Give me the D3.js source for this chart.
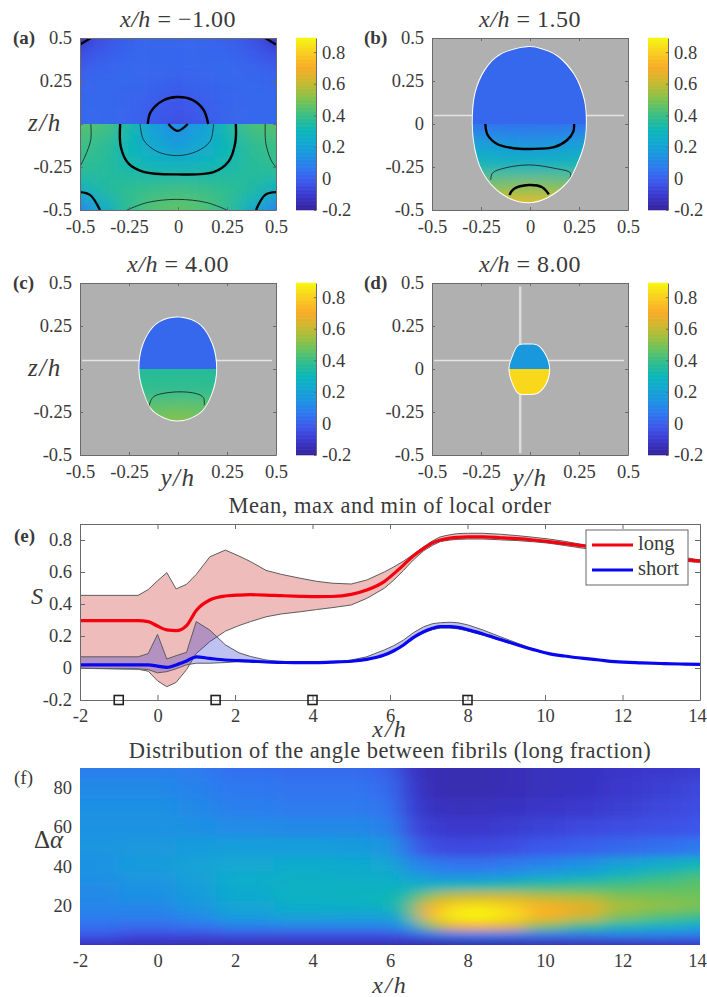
<!DOCTYPE html>
<html>
<head>
<meta charset="utf-8">
<script src="https://cdn.jsdelivr.net/npm/d3@7"></script>
<style>
  body { margin: 0; background: #fff; }
  text { font-family: "Liberation Serif", serif; fill: #3a3a3a; }
  .tick text { font-size: 18.5px; }
  .it { font-style: italic; }
  .domain, .tick line { stroke: #6a6a6a; }
</style>
</head>
<body>
<div id="chart"></div>
<script>
// colormap
const cmapValues = [-0.2, -0.12, -0.03, 0.06, 0.14, 0.22, 0.3, 0.38, 0.46, 0.54, 0.62, 0.7, 0.8, 0.89];
const cmapColors = ['#35249a', '#3a35c8', '#3d55ea', '#2f78f0', '#1d93e2', '#12a8d2', '#0cb6b8', '#2fbd90', '#62c262', '#9cc040', '#d0b72f', '#f8ab28', '#f9cf20', '#f7f80f'];
const colorbarTicks = [-0.2, 0, 0.2, 0.4, 0.6, 0.8];
const sectionTicks = [-0.5, -0.25, 0, 0.25, 0.5];

// cross section values, y columns and z rows
const gridY = [-0.5, -0.375, -0.25, -0.125, 0, 0.125, 0.25, 0.375, 0.5];
const upperZ = [0.5, 0.375, 0.25, 0.125, 0];
const lowerZ = [0, -0.125, -0.25, -0.375, -0.5];

const upperA = [
  [-0.12, -0.04, 0.0, 0.01, 0.01, 0.01, 0.0, -0.04, -0.12],
  [-0.03, 0.0, 0.02, 0.02, 0.02, 0.02, 0.02, 0.0, -0.03],
  [0.01, 0.02, 0.02, 0.01, 0.0, 0.01, 0.02, 0.02, 0.01],
  [0.02, 0.02, 0.01, -0.01, -0.03, -0.01, 0.01, 0.02, 0.02],
  [0.02, 0.02, 0.01, -0.02, -0.05, -0.02, 0.01, 0.02, 0.02]
];
const lowerA = [
  [0.44, 0.42, 0.33, 0.18, 0.12, 0.18, 0.33, 0.42, 0.44],
  [0.4, 0.37, 0.3, 0.22, 0.17, 0.22, 0.3, 0.37, 0.4],
  [0.38, 0.36, 0.32, 0.3, 0.29, 0.3, 0.32, 0.36, 0.38],
  [0.28, 0.35, 0.38, 0.39, 0.4, 0.39, 0.38, 0.35, 0.28],
  [0.08, 0.25, 0.38, 0.44, 0.46, 0.44, 0.38, 0.25, 0.08]
];
const rowsB = [
  [0.04, 0.04, 0.04, 0.04, 0.04, 0.04, 0.04, 0.04, 0.04],
  [0.26, 0.23, 0.2, 0.17, 0.16, 0.17, 0.2, 0.23, 0.26],
  [0.34, 0.33, 0.31, 0.3, 0.3, 0.3, 0.31, 0.33, 0.34],
  [0.5, 0.5, 0.5, 0.51, 0.52, 0.51, 0.5, 0.5, 0.5],
  [0.74, 0.74, 0.74, 0.74, 0.74, 0.74, 0.74, 0.74, 0.74]
];
const rowsC = [
  [0.36, 0.36, 0.36, 0.36, 0.36, 0.36, 0.36, 0.36, 0.36],
  [0.38, 0.38, 0.38, 0.38, 0.38, 0.38, 0.38, 0.38, 0.38],
  [0.44, 0.44, 0.45, 0.47, 0.48, 0.47, 0.45, 0.44, 0.44],
  [0.51, 0.51, 0.51, 0.53, 0.55, 0.53, 0.51, 0.51, 0.51],
  [0.54, 0.54, 0.54, 0.55, 0.56, 0.55, 0.54, 0.54, 0.54]
];
const upperValueB = 0.02;
const upperValueC = 0.02;
const upperValueD = 0.16;
const lowerValueD = 0.82;

// outlines of the fibril region, [y, z]
const outlineB = [[-0.006, 0.447], [-0.15, 0.403], [-0.227, 0.316], [-0.278, 0.18], [-0.292, 0], [-0.278, -0.15], [-0.245, -0.267], [-0.185, -0.364], [-0.1, -0.432], [-0.006, -0.455], [0.088, -0.426], [0.19, -0.335], [0.24, -0.228], [0.275, -0.112], [0.285, 0], [0.275, 0.14], [0.224, 0.286], [0.139, 0.393], [0.054, 0.436]];
const outlineC = [[-0.006, 0.3], [-0.108, 0.262], [-0.176, 0.146], [-0.197, 0], [-0.176, -0.126], [-0.125, -0.243], [-0.006, -0.3], [0.113, -0.252], [0.173, -0.136], [0.195, 0], [0.173, 0.146], [0.105, 0.262]];
const outlineD = [[-0.057, 0.136], [-0.01, 0.142], [0.037, 0.136], [0.079, 0.078], [0.098, 0], [0.079, -0.087], [0.037, -0.138], [-0.01, -0.145], [-0.057, -0.14], [-0.086, -0.087], [-0.105, 0], [-0.086, 0.078]];

// contour lines, [y, z]
const thickA = [
  [[-0.5, 0.462], [-0.445, 0.5]],
  [[0.445, 0.5], [0.5, 0.462]],
  [[-0.154, 0], [-0.139, 0.07], [-0.074, 0.138], [-0.006, 0.157], [0.07, 0.142], [0.13, 0.083], [0.154, 0]],
  [[-0.049, 0], [-0.003, -0.04], [0.05, 0]],
  [[-0.295, 0], [-0.292, -0.132], [-0.253, -0.229], [-0.176, -0.278], [-0.006, -0.293], [0.181, -0.28], [0.258, -0.218], [0.292, -0.111], [0.295, 0]],
  [[-0.5, -0.396], [-0.449, -0.412], [-0.398, -0.5]],
  [[0.5, -0.396], [0.445, -0.412], [0.398, -0.5]]
];
const thinA = [
  [[-0.193, 0], [-0.176, -0.092], [-0.108, -0.159], [-0.006, -0.184], [0.096, -0.159], [0.164, -0.1], [0.181, 0]],
  [[-0.445, 0], [-0.445, -0.091], [-0.474, -0.188], [-0.5, -0.247]],
  [[0.445, 0], [0.448, -0.111], [0.474, -0.208], [0.5, -0.253]],
  [[-0.26, -0.5], [-0.158, -0.457], [-0.006, -0.438], [0.147, -0.457], [0.249, -0.5]]
];
const thickB = [
  [[-0.228, 0], [-0.216, -0.064], [-0.168, -0.116], [-0.083, -0.141], [0.003, -0.145], [0.122, -0.135], [0.19, -0.093], [0.221, -0.044], [0.225, 0]],
  [[-0.105, -0.413], [-0.083, -0.378], [-0.006, -0.355], [0.062, -0.368], [0.096, -0.409]]
];
const thinB = [
  [[-0.2, -0.325], [-0.192, -0.286], [-0.132, -0.257], [-0.006, -0.238], [0.122, -0.257], [0.207, -0.286], [0.195, -0.335]]
];
const thinC = [
  [[-0.15, -0.225], [-0.136, -0.178], [-0.116, -0.155], [-0.006, -0.133], [0.096, -0.144], [0.13, -0.167], [0.134, -0.21]]
];

// panel e
const orderX = [-2, -0.5, -0.24, 0, 0.24, 0.48, 0.75, 1, 1.35, 1.75, 2.1, 2.4, 2.8, 3.2, 3.7, 4.1, 4.5, 5, 5.4, 5.85, 6.1, 6.35, 6.6, 6.87, 7.1, 7.3, 7.55, 7.75, 8, 8.4, 8.85, 9.3, 9.7, 10.1, 10.5, 11, 11.4, 11.8, 12.5, 13, 13.5, 14];
const longMax = [0.454, 0.454, 0.49, 0.545, 0.596, 0.494, 0.523, 0.585, 0.695, 0.737, 0.7, 0.665, 0.61, 0.585, 0.56, 0.542, 0.53, 0.525, 0.55, 0.6, 0.632, 0.668, 0.71, 0.758, 0.795, 0.82, 0.833, 0.84, 0.842, 0.842, 0.836, 0.827, 0.817, 0.806, 0.792, 0.77, 0.757, 0.745, 0.725, 0.71, 0.695, 0.675];
const longMean = [0.296, 0.296, 0.29, 0.262, 0.238, 0.233, 0.265, 0.36, 0.425, 0.45, 0.456, 0.458, 0.456, 0.452, 0.448, 0.446, 0.447, 0.46, 0.487, 0.54, 0.59, 0.644, 0.7, 0.748, 0.782, 0.8, 0.812, 0.817, 0.819, 0.819, 0.814, 0.808, 0.8, 0.79, 0.778, 0.763, 0.752, 0.74, 0.715, 0.695, 0.679, 0.669];
const longMin = [-0.002, -0.008, -0.02, -0.08, -0.117, -0.09, -0.01, 0.09, 0.165, 0.23, 0.265, 0.29, 0.32, 0.338, 0.352, 0.365, 0.377, 0.394, 0.435, 0.498, 0.55, 0.61, 0.675, 0.733, 0.767, 0.79, 0.8, 0.804, 0.806, 0.806, 0.801, 0.796, 0.789, 0.78, 0.766, 0.748, 0.737, 0.725, 0.7, 0.683, 0.669, 0.66];
const shortMax = [0.07, 0.07, 0.09, 0.21, 0.056, 0.077, 0.098, 0.29, 0.237, 0.145, 0.095, 0.072, 0.05, 0.04, 0.035, 0.033, 0.035, 0.05, 0.07, 0.1125, 0.14, 0.175, 0.22, 0.258, 0.277, 0.283, 0.286, 0.283, 0.27, 0.2375, 0.195, 0.154, 0.12, 0.09, 0.075, 0.06, 0.05, 0.04, 0.03, 0.027, 0.025, 0.025];
const shortMean = [0.019, 0.019, 0.019, 0.012, 0.004, 0.019, 0.044, 0.07, 0.06, 0.05, 0.046, 0.043, 0.0375, 0.035, 0.033, 0.034, 0.037, 0.042, 0.054, 0.081, 0.108, 0.144, 0.19, 0.227, 0.248, 0.258, 0.258, 0.254, 0.24, 0.2125, 0.178, 0.144, 0.115, 0.09, 0.075, 0.06, 0.05, 0.04, 0.032, 0.028, 0.025, 0.023];
const shortMin = [-0.002, -0.005, -0.01, -0.03, -0.023, -0.005, 0.02, 0.03, 0.03, 0.034, 0.04, 0.038, 0.035, 0.032, 0.03, 0.031, 0.033, 0.038, 0.05, 0.078, 0.105, 0.14, 0.185, 0.22, 0.24, 0.25, 0.25, 0.245, 0.232, 0.205, 0.172, 0.14, 0.112, 0.088, 0.073, 0.058, 0.048, 0.038, 0.03, 0.026, 0.023, 0.022];
const markerX = [-1, 1.5, 4, 8];
const orderXTicks = [-2, 0, 2, 4, 6, 8, 10, 12, 14];
const orderYTicks = [-0.2, 0, 0.2, 0.4, 0.6, 0.8];

// panel f, one row per angle, same colour units as the colorbar
const angleX = [-2, 0, 1, 2, 4, 5, 6, 6.5, 7, 7.5, 8, 8.5, 9, 10, 11, 12, 13, 14];
const angleRows = [1, 5, 10, 15, 20, 25, 30, 35, 40, 50, 60, 70, 80, 90];
const angleValues = [
  [-0.14, -0.15, -0.16, -0.16, -0.16, -0.16, -0.16, -0.17, -0.18, -0.18, -0.18, -0.18, -0.18, -0.17, -0.16, -0.15, -0.14, -0.13],
  [-0.03, -0.06, -0.06, -0.05, -0.05, -0.05, -0.05, -0.02, 0.03, 0.05, 0.06, 0.06, 0.06, 0.05, 0.05, 0.07, 0.07, 0.06],
  [0.04, 0.03, 0.05, 0.09, 0.1, 0.1, 0.1, 0.18, 0.5, 0.66, 0.72, 0.72, 0.66, 0.5, 0.4, 0.32, 0.28, 0.24],
  [0.08, 0.08, 0.12, 0.18, 0.21, 0.2, 0.2, 0.36, 0.72, 0.86, 0.89, 0.89, 0.84, 0.72, 0.62, 0.5, 0.44, 0.4],
  [0.1, 0.11, 0.15, 0.21, 0.25, 0.26, 0.28, 0.4, 0.7, 0.8, 0.84, 0.84, 0.8, 0.72, 0.66, 0.56, 0.52, 0.5],
  [0.11, 0.13, 0.17, 0.23, 0.27, 0.28, 0.3, 0.35, 0.52, 0.6, 0.62, 0.62, 0.62, 0.58, 0.56, 0.5, 0.49, 0.48],
  [0.12, 0.14, 0.18, 0.24, 0.27, 0.27, 0.27, 0.27, 0.28, 0.3, 0.32, 0.33, 0.35, 0.38, 0.4, 0.42, 0.44, 0.45],
  [0.13, 0.16, 0.19, 0.24, 0.26, 0.25, 0.25, 0.2, 0.16, 0.14, 0.14, 0.15, 0.17, 0.22, 0.26, 0.32, 0.38, 0.42],
  [0.14, 0.17, 0.2, 0.22, 0.24, 0.23, 0.22, 0.12, 0.08, 0.05, 0.05, 0.05, 0.07, 0.1, 0.14, 0.2, 0.25, 0.3],
  [0.15, 0.16, 0.17, 0.18, 0.18, 0.17, 0.15, 0.03, -0.05, -0.06, -0.06, -0.06, -0.05, -0.02, 0.0, 0.02, 0.04, 0.06],
  [0.14, 0.14, 0.13, 0.12, 0.11, 0.11, 0.09, -0.05, -0.1, -0.11, -0.11, -0.11, -0.1, -0.08, -0.06, -0.05, -0.04, -0.03],
  [0.13, 0.13, 0.11, 0.08, 0.07, 0.07, 0.05, -0.08, -0.13, -0.14, -0.14, -0.14, -0.13, -0.12, -0.11, -0.09, -0.07, -0.05],
  [0.11, 0.11, 0.09, 0.06, 0.05, 0.05, 0.03, -0.1, -0.15, -0.16, -0.16, -0.16, -0.15, -0.14, -0.13, -0.11, -0.09, -0.07],
  [0.08, 0.08, 0.07, 0.04, 0.03, 0.03, 0.0, -0.12, -0.15, -0.16, -0.16, -0.16, -0.15, -0.14, -0.13, -0.12, -0.11, -0.1]
];
const angleXTicks = [-2, 0, 2, 4, 6, 8, 10, 12, 14];
const angleYTicks = [20, 40, 60, 80];

const svg = d3.select('#chart').append('svg').attr('width', 707).attr('height', 997);
const defs = svg.append('defs');
const color = d3.scaleLinear().domain(cmapValues).range(cmapColors).clamp(true);
const fmt = d => String(d);

defs.append('filter').attr('id', 'blurSection')
  .attr('filterUnits', 'userSpaceOnUse').attr('x', 0).attr('y', 0).attr('width', 707).attr('height', 997)
  .append('feGaussianBlur').attr('stdDeviation', 9);
defs.append('filter').attr('id', 'blurAngle')
  .attr('filterUnits', 'userSpaceOnUse').attr('x', 0).attr('y', 0).attr('width', 900).attr('height', 997)
  .append('feGaussianBlur').attr('stdDeviation', '11 5');

let clipCount = 0;
function addClip(build) {
  const id = 'clip' + (clipCount++);
  build(defs.append('clipPath').attr('id', id));
  return `url(#${id})`;
}

// draws cells from a value grid, outer cells run well past the edge so the blur stays even
function drawCells(g, xs, ys, values, xScale, yScale) {
  const edges = (arr, scale) => arr.map((d, i) => {
    const p = scale(d);
    const before = i > 0 ? (scale(arr[i - 1]) + p) / 2 : p + (p - scale(arr[1])) * 2;
    const after = i < arr.length - 1 ? (scale(arr[i + 1]) + p) / 2 : p + (p - scale(arr[i - 1])) * 2;
    return [Math.min(before, after), Math.max(before, after)];
  });
  const xe = edges(xs, xScale);
  const ye = edges(ys, yScale);
  ys.forEach((_, r) => xs.forEach((_, c) => {
    g.append('rect')
      .attr('x', xe[c][0]).attr('y', ye[r][0])
      .attr('width', xe[c][1] - xe[c][0] + 0.5).attr('height', ye[r][1] - ye[r][0] + 0.5)
      .attr('fill', color(values[r][c]));
  }));
}

// moves the last x label in so it stays on the page
function pullLastLabel(axisG) {
  axisG.selectAll('.tick text').filter(d => d === 14).attr('dx', -3);
}

function drawSection(p) {
  const x = d3.scaleLinear().domain([-0.5, 0.5]).range([p.left, p.left + 196]);
  const y = d3.scaleLinear().domain([-0.5, 0.5]).range([p.top + 172, p.top]);
  const line = d3.line().x(d => x(d[0])).y(d => y(d[1]));
  const root = svg.append('g');

  const inside = addClip(c => {
    if (p.outline) c.append('path').attr('d', line.curve(d3.curveCatmullRomClosed)(p.outline));
    else c.append('rect').attr('x', x(-0.5)).attr('y', y(0.5)).attr('width', 196).attr('height', 172);
  });
  line.curve(d3.curveCatmullRom);

  if (p.outline) {
    root.append('rect').attr('x', x(-0.5)).attr('y', y(0.5)).attr('width', 196).attr('height', 172).attr('fill', '#b0b0b0');
    (p.whiteH || []).forEach(z => root.append('line').attr('x1', x(-0.49)).attr('x2', x(0.48))
      .attr('y1', y(z)).attr('y2', y(z)).attr('stroke', '#e4e4e4').attr('stroke-width', 1.5));
    (p.whiteV || []).forEach(v => root.append('line').attr('x1', x(v)).attr('x2', x(v))
      .attr('y1', y(0.48)).attr('y2', y(-0.49)).attr('stroke', '#dcdcdc').attr('stroke-width', 2.5));
    root.append('path').attr('d', d3.line().x(d => x(d[0])).y(d => y(d[1])).curve(d3.curveCatmullRomClosed)(p.outline))
      .attr('fill', 'none').attr('stroke', '#fff').attr('stroke-width', 2);
  }

  const content = root.append('g').attr('clip-path', inside);
  const upHalf = content.append('g').attr('clip-path', addClip(c => c.append('rect')
    .attr('x', x(-0.5)).attr('y', y(0.5)).attr('width', 196).attr('height', y(0) - y(0.5))));
  const lowHalf = content.append('g').attr('clip-path', addClip(c => c.append('rect')
    .attr('x', x(-0.5)).attr('y', y(0)).attr('width', 196).attr('height', y(-0.5) - y(0))));

  if (p.upper) drawCells(upHalf.append('g').attr('filter', 'url(#blurSection)'), gridY, upperZ, p.upper, x, y);
  else upHalf.append('rect').attr('x', x(-0.5)).attr('y', y(0.5)).attr('width', 196).attr('height', 90).attr('fill', color(p.upperValue));
  if (p.lower) drawCells(lowHalf.append('g').attr('filter', 'url(#blurSection)'), gridY, lowerZ, p.lower, x, y);
  else lowHalf.append('rect').attr('x', x(-0.5)).attr('y', y(0)).attr('width', 196).attr('height', 90).attr('fill', color(p.lowerValue));

  (p.thin || []).forEach(d => content.append('path').attr('d', line(d)).attr('fill', 'none').attr('stroke', '#1a2a30').attr('stroke-width', 0.9));
  (p.thick || []).forEach(d => content.append('path').attr('d', line(d)).attr('fill', 'none').attr('stroke', '#000').attr('stroke-width', 2.4));

  // axes, ticks inward like the matlab figure
  const zFmt = d => (p.showZero === false && d === 0) ? '' : fmt(d);
  const yFmt = d => (p.showY0 === false && d === 0) ? '' : fmt(d);
  root.append('g').attr('transform', `translate(${p.left},0)`)
    .call(d3.axisLeft(y).tickValues(sectionTicks).tickSizeInner(-3).tickSizeOuter(0).tickPadding(8).tickFormat(zFmt));
  root.append('g').attr('transform', `translate(0,${p.top + 172})`)
    .call(d3.axisBottom(x).tickValues(sectionTicks).tickSizeInner(-3).tickSizeOuter(0).tickPadding(10).tickFormat(yFmt));
  root.append('g').attr('transform', `translate(${p.left + 196},0)`)
    .call(d3.axisRight(y).tickValues(sectionTicks).tickSizeInner(-3).tickSizeOuter(0).tickFormat(''));
  root.append('g').attr('transform', `translate(0,${p.top})`)
    .call(d3.axisTop(x).tickValues(sectionTicks).tickSizeInner(-3).tickSizeOuter(0).tickFormat(''));

  // colorbar
  const cx = p.left + 216;
  const cy = d3.scaleLinear().domain([-0.2, 0.89]).range([p.top + 172, p.top]);
  const steps = d3.range(-0.2, 0.89, 0.005);
  root.append('g').selectAll('rect').data(steps).join('rect')
    .attr('x', cx).attr('width', 20)
    .attr('y', d => cy(d + 0.005) - 0.3).attr('height', cy(0) - cy(0.005) + 0.6)
    .attr('fill', d => color(d));
  root.append('g').attr('transform', `translate(${cx + 20},0)`)
    .call(d3.axisRight(cy).tickValues(colorbarTicks).tickSizeInner(-2).tickSizeOuter(0).tickPadding(6).tickFormat(fmt))
    .select('.domain').attr('stroke', '#777');

  // title
  const t = svg.append('text').attr('x', x(0)).attr('y', p.top - 11).attr('text-anchor', 'middle')
    .attr('font-size', 24).attr('letter-spacing', 0.5);
  t.append('tspan').attr('class', 'it').text('x/h');
  t.append('tspan').text(` = ${p.title}`);
  svg.append('text').attr('x', p.tagX).attr('y', p.top + 6).attr('font-size', 19).attr('font-weight', 'bold').attr('fill', '#333').text(p.tag);
  if (p.showZero === false) {
    svg.append('text').attr('class', 'it').attr('x', 28).attr('y', y(0) + 7).attr('font-size', 25).attr('letter-spacing', 1.5).text('z/h');
  }
  if (p.showY0 === false) {
    svg.append('text').attr('class', 'it').attr('x', x(0)).attr('y', p.top + 172 + 31).attr('text-anchor', 'middle').attr('font-size', 25).attr('letter-spacing', 1.5).text('y/h');
  }
}

drawSection({ left: 80, top: 38, title: '\u22121.00', tag: '(a)', tagX: 13, upper: upperA, lower: lowerA, thick: thickA, thin: thinA, showZero: false });
drawSection({ left: 432, top: 38, title: '1.50', tag: '(b)', tagX: 364, outline: outlineB, upperValue: upperValueB, lower: rowsB, thick: thickB, thin: thinB, whiteH: [0.05] });
drawSection({ left: 80, top: 283, title: '4.00', tag: '(c)', tagX: 13, outline: outlineC, upperValue: upperValueC, lower: rowsC, thin: thinC, whiteH: [0.05], showZero: false, showY0: false });
drawSection({ left: 432, top: 283, title: '8.00', tag: '(d)', tagX: 364, outline: outlineD, upperValue: upperValueD, lowerValue: lowerValueD, whiteH: [0.05], whiteV: [-0.05], showY0: false });

// panel e
const ex = d3.scaleLinear().domain([-2, 14]).range([80, 700]);
const ey = d3.scaleLinear().domain([-0.2, 0.9]).range([700, 524]);
const eg = svg.append('g');
const ePlot = eg.append('g').attr('clip-path', addClip(c => c.append('rect').attr('x', 80).attr('y', 524).attr('width', 620).attr('height', 176)));

function drawBand(lo, hi, fill) {
  const rows = orderX.map((d, i) => [d, lo[i], hi[i]]);
  ePlot.append('path')
    .attr('d', d3.area().x(d => ex(d[0])).y0(d => ey(d[1])).y1(d => ey(d[2]))(rows))
    .attr('fill', fill).attr('fill-opacity', 0.3).attr('stroke', '#5c5c5c').attr('stroke-width', 1);
}
function drawMean(vals, stroke) {
  ePlot.append('path')
    .attr('d', d3.line().x((d, i) => ex(orderX[i])).y(d => ey(d)).curve(d3.curveMonotoneX)(vals))
    .attr('fill', 'none').attr('stroke', stroke).attr('stroke-width', 3.2);
}
drawBand(longMin, longMax, '#c8201c');
drawBand(shortMin, shortMax, '#2a32d2');
drawMean(longMean, '#f5000f');
drawMean(shortMean, '#0808f0');

eg.append('g').attr('transform', 'translate(0,700)')
  .call(d3.axisBottom(ex).tickValues(orderXTicks).tickSizeInner(-5).tickSizeOuter(0).tickPadding(9).tickFormat(fmt))
  .call(pullLastLabel);
eg.append('g').attr('transform', 'translate(80,0)')
  .call(d3.axisLeft(ey).tickValues(orderYTicks).tickSizeInner(-5).tickSizeOuter(0).tickPadding(8).tickFormat(fmt));
eg.append('g').attr('transform', 'translate(700,0)')
  .call(d3.axisRight(ey).tickValues(orderYTicks).tickSizeInner(-5).tickSizeOuter(0).tickFormat(''));
eg.append('g').attr('transform', 'translate(0,524)')
  .call(d3.axisTop(ex).tickValues(orderXTicks).tickSizeInner(-5).tickSizeOuter(0).tickFormat(''));

eg.selectAll('.marker').data(markerX).join('rect').attr('class', 'marker')
  .attr('x', d => ex(d) - 4.5).attr('y', ey(-0.2) - 4.5).attr('width', 9).attr('height', 9)
  .attr('fill', 'none').attr('stroke', '#222').attr('stroke-width', 1.6);

const legend = eg.append('g');
legend.append('rect').attr('x', 586).attr('y', 530).attr('width', 102).attr('height', 55)
  .attr('fill', '#fff').attr('stroke', '#666').attr('stroke-width', 1);
[['long', '#f5000f', 545], ['short', '#0808f0', 570]].forEach(([name, stroke, ly]) => {
  legend.append('line').attr('x1', 592).attr('x2', 633).attr('y1', ly).attr('y2', ly).attr('stroke', stroke).attr('stroke-width', 3.2);
  legend.append('text').attr('x', 638).attr('y', ly + 5).attr('font-size', 20.5).text(name);
});

svg.append('text').attr('x', 390).attr('y', 513).attr('text-anchor', 'middle').attr('font-size', 22.5).attr('letter-spacing', 0.5).text('Mean, max and min of local order');
svg.append('text').attr('x', 14).attr('y', 542).attr('font-size', 19).attr('font-weight', 'bold').text('(e)');
svg.append('text').attr('class', 'it').attr('x', 31).attr('y', 604).attr('font-size', 24).text('S');
svg.append('text').attr('class', 'it').attr('x', 390).attr('y', 737).attr('text-anchor', 'middle').attr('font-size', 24).attr('letter-spacing', 2).text('x/h');

// panel f
const fx = d3.scaleLinear().domain([-2, 14]).range([80, 700]);
const fy = d3.scaleLinear().domain([0, 90]).range([945, 768]);
const fg = svg.append('g');
const fPlot = fg.append('g').attr('clip-path', addClip(c => c.append('rect').attr('x', 80).attr('y', 768).attr('width', 620).attr('height', 177)));
drawCells(fPlot.append('g').attr('filter', 'url(#blurAngle)'), angleX, angleRows, angleValues, fx, fy);

const fAxisX = fg.append('g').attr('transform', 'translate(0,945)')
  .call(d3.axisBottom(fx).tickValues(angleXTicks).tickSize(0).tickPadding(9).tickFormat(fmt))
  .call(pullLastLabel);
const fAxisY = fg.append('g').attr('transform', 'translate(80,0)')
  .call(d3.axisLeft(fy).tickValues(angleYTicks).tickSize(0).tickPadding(8).tickFormat(fmt));
fAxisX.select('.domain').remove();
fAxisY.select('.domain').remove();

svg.append('text').attr('x', 390).attr('y', 758).attr('text-anchor', 'middle').attr('font-size', 22.5).attr('letter-spacing', 0.45).text('Distribution of the angle between fibrils (long fraction)');
svg.append('text').attr('x', 14).attr('y', 784).attr('font-size', 19).text('(f)');
const da = svg.append('text').attr('x', 34).attr('y', 848).attr('font-size', 25);
da.append('tspan').text('\u0394');
da.append('tspan').attr('class', 'it').text('\u03b1');
svg.append('text').attr('class', 'it').attr('x', 390).attr('y', 993).attr('text-anchor', 'middle').attr('font-size', 24).attr('letter-spacing', 2).text('x/h');
</script>
</body>
</html>
